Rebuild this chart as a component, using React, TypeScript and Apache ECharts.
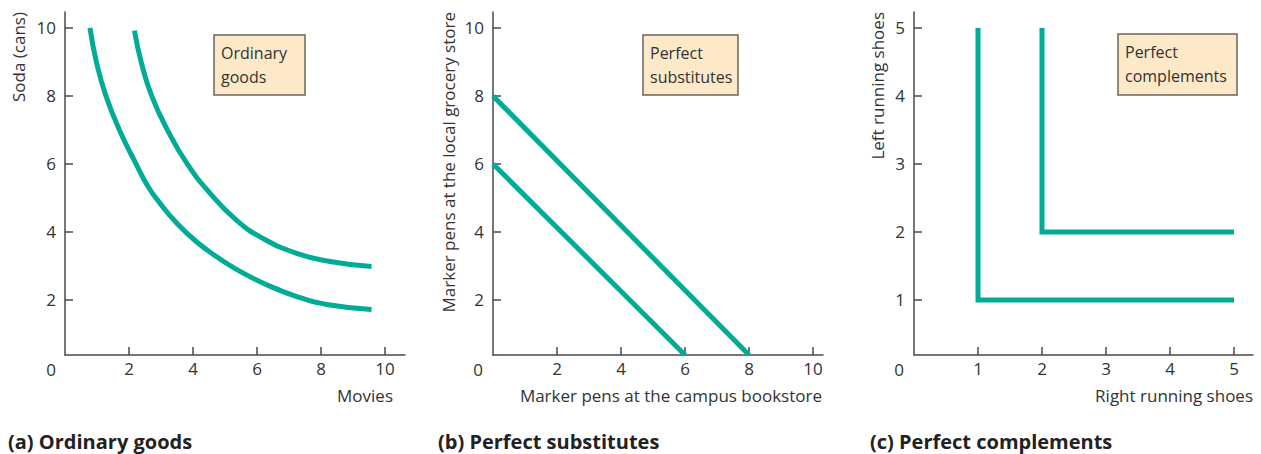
import React, { useEffect, useRef } from "react";
import * as echarts from "echarts";

// ---- data ----
const ordinaryLow: [number, number][] = [
  [0.78, 10], [0.98, 9], [1.28, 8], [1.7, 7], [2.22, 6], [2.58, 5.36], [2.97, 4.84], [3.49, 4.26], [4.11, 3.71], [4.74, 3.27],
  [5.36, 2.9], [6.2, 2.49], [7.24, 2.1], [8.28, 1.85], [9.58, 1.72],
];
const ordinaryHigh: [number, number][] = [
  [2.17, 9.92], [2.38, 9], [2.71, 8], [3.2, 7], [3.82, 6], [4.53, 5.14], [5.39, 4.32], [6.2, 3.8], [7.24, 3.37], [8.28, 3.13], [9.58, 2.98],
];
const substLow: [number, number][] = [[0, 6], [6, 0.38]];
const substHigh: [number, number][] = [[0, 8], [8, 0.38]];
const complLow: [number, number][] = [[1, 5], [1, 1], [5, 1]];
const complHigh: [number, number][] = [[2, 5], [2, 2], [5, 2]];

const ticksTen = [2, 4, 6, 8, 10];
const ticksFive = [1, 2, 3, 4, 5];

const panelTitles = ["(a) Ordinary goods", "(b) Perfect substitutes", "(c) Perfect complements"];
const boxTexts = ["Ordinary\ngoods", "Perfect\nsubstitutes", "Perfect\ncomplements"];
const xNames = ["Movies", "Marker pens at the campus bookstore", "Right running shoes"];
const yNames = ["Soda (cans)", "Marker pens at the local grocery store", "Left running shoes"];

const TEAL = "#00AB97";
const AXIS = "#4a4a4a";
const TEXT = "#333333";
const FONT = "'Open Sans', 'Noto Sans', sans-serif";
const FS = 17;

function xAxisCfg(gi: number, max: number, ticks: number[]) {
  return {
    type: "value",
    gridIndex: gi,
    min: 0,
    max,
    axisLine: { show: true, onZero: false, lineStyle: { color: AXIS, width: 1.5 } },
    axisTick: { show: true, inside: true, length: 8, customValues: ticks, lineStyle: { color: AXIS, width: 1.5 } },
    axisLabel: { show: true, customValues: ticks, margin: 5, color: TEXT, fontSize: FS, fontFamily: FONT },
    splitLine: { show: false },
  };
}
function yAxisCfg(gi: number, min: number, max: number, ticks: number[]) {
  return {
    type: "value",
    gridIndex: gi,
    min,
    max,
    axisLine: { show: true, onZero: false, lineStyle: { color: AXIS, width: 1.5 } },
    axisTick: { show: true, inside: true, length: 8, customValues: ticks, lineStyle: { color: AXIS, width: 1.5 } },
    axisLabel: { show: true, customValues: ticks, margin: 9, color: TEXT, fontSize: FS, fontFamily: FONT },
    splitLine: { show: false },
  };
}
function lineSeries(gi: number, data: [number, number][], smooth: boolean | number) {
  return {
    type: "line",
    xAxisIndex: gi,
    yAxisIndex: gi,
    data,
    smooth,
    showSymbol: false,
    symbol: "none",
    lineStyle: { color: TEAL, width: 5, cap: "butt", join: "miter" },
  };
}

export default function App() {
  const ref = useRef<HTMLDivElement>(null);
  useEffect(() => {
    if (!ref.current) return;
    const chart = echarts.init(ref.current, null, { renderer: "svg" });

    const gridPos = [
      { left: 65, top: 12, width: 340, height: 343 },
      { left: 493, top: 12, width: 330, height: 343 },
      { left: 914, top: 12, width: 339, height: 343 },
    ];
    const boxes = [
      { x: 214, y: 35, w: 91, h: 60 },
      { x: 643, y: 35, w: 95, h: 60 },
      { x: 1118, y: 34, w: 119, h: 61 },
    ];
    const zeroX = [51, 478, 899];
    const yNameX = [18, 448, 877];
    const xNameRight = [393, 822, 1253];
    const titleX = [8, 438, 870];

    const graphic: any[] = [];
    for (let i = 0; i < 3; i++) {
      const b = boxes[i];
      graphic.push({
        type: "rect",
        shape: { x: b.x, y: b.y, width: b.w, height: b.h },
        style: { fill: "#FDE8C8", stroke: "#6e655b", lineWidth: 1.5 },
        z: 10,
      });
      graphic.push({
        type: "text",
        x: b.x + 7,
        y: b.y + 6,
        style: { text: boxTexts[i], fill: TEXT, fontSize: 16, fontFamily: FONT, lineHeight: 24, align: "left", verticalAlign: "top" },
        z: 11,
      });
      graphic.push({
        type: "text",
        x: zeroX[i],
        y: 369,
        style: { text: "0", fill: TEXT, fontSize: FS, fontFamily: FONT, align: "center", verticalAlign: "middle" },
      });
      graphic.push({
        type: "text",
        x: yNameX[i],
        y: 12,
        rotation: Math.PI / 2,
        style: { text: yNames[i], fill: TEXT, fontSize: FS, fontFamily: FONT, align: "right", verticalAlign: "middle" },
      });
      graphic.push({
        type: "text",
        x: xNameRight[i],
        y: 395,
        style: { text: xNames[i], fill: TEXT, fontSize: FS, fontFamily: FONT, align: "right", verticalAlign: "middle" },
      });
      graphic.push({
        type: "text",
        x: titleX[i],
        y: 441,
        style: { text: panelTitles[i], fill: "#222", fontSize: 20, fontWeight: "bold", fontFamily: FONT, align: "left", verticalAlign: "middle" },
      });
    }

    chart.setOption({
      animation: false,
      backgroundColor: "#ffffff",
      grid: gridPos.map((g) => ({ ...g, containLabel: false })),
      xAxis: [
        xAxisCfg(0, 340 / 32, ticksTen),
        xAxisCfg(1, 330 / 32, ticksTen),
        xAxisCfg(2, 339 / 64, ticksFive),
      ],
      yAxis: [
        yAxisCfg(0, 0.38, 0.38 + 343 / 34, ticksTen),
        yAxisCfg(1, 0.38, 0.38 + 343 / 34, ticksTen),
        yAxisCfg(2, 0.19, 0.19 + 343 / 68, ticksFive),
      ],
      series: [
        lineSeries(0, ordinaryLow, 0.5),
        lineSeries(0, ordinaryHigh, 0.5),
        lineSeries(1, substLow, false),
        lineSeries(1, substHigh, false),
        lineSeries(2, complLow, false),
        lineSeries(2, complHigh, false),
      ],
      graphic,
    });
    return () => chart.dispose();
  }, []);
  return (
    <div
      ref={ref}
      style={{ position: "fixed", left: 0, top: 0, width: 1261, height: 454, background: "#fff" }}
    />
  );
}
